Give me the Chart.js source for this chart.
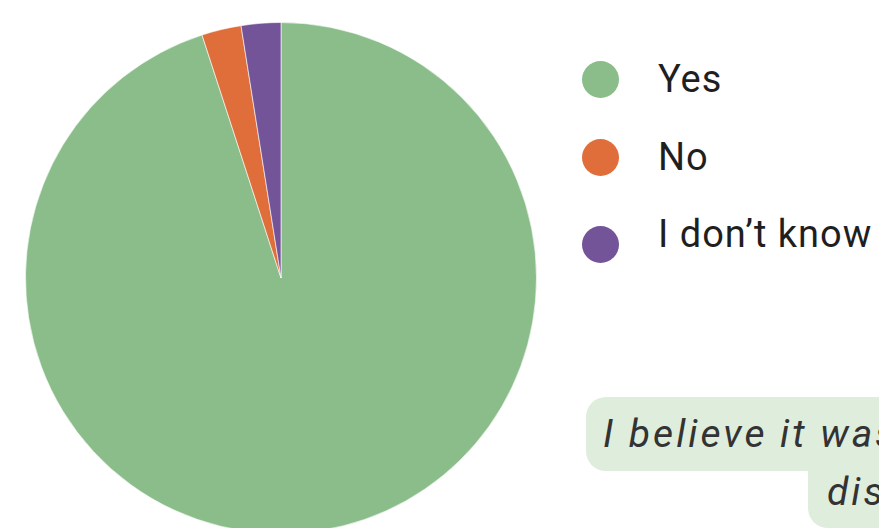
<!DOCTYPE html>
<html>
<head>
<meta charset="utf-8">
<script src="https://cdn.jsdelivr.net/npm/chart.js@4"></script>
<style>
  html, body { margin: 0; padding: 0; background: #fff; overflow: hidden; width: 879px; height: 528px; }
  #wrap { position: relative; width: 879px; height: 528px; overflow: hidden; }
  #pieChart { position: absolute; left: 0; top: 0; }
  #legend { position: absolute; left: 582px; top: 0; font-family: Roboto, sans-serif; font-size: 38px; letter-spacing: 1px; color: #1f1f1f; }
  .item { position: absolute; left: 0; height: 40px; white-space: nowrap; }
  .dot { position: absolute; left: 0; width: 37px; height: 37px; border-radius: 50%; }
  .lbl { position: absolute; left: 76px; line-height: 40px; }
  .quote { position: absolute; background: #dfeddc; font-family: Roboto, sans-serif; font-style: italic; font-size: 39px; letter-spacing: 3px; color: #333; white-space: nowrap; border-radius: 20px; }
</style>
</head>
<body>
<div id="wrap">
  <canvas id="pieChart" width="562" height="540"></canvas>
  <div id="legend"></div>
  <div class="quote" style="left:586px; top:397px; width:340px; height:74px; line-height:74px; padding-left:17px; box-sizing:border-box;">I believe it was</div>
  <div class="quote" style="left:808px; top:460px; width:120px; height:68px; line-height:64px; padding-left:19px; box-sizing:border-box; border-top-left-radius:0;">dis</div>
</div>
<script>
// PIE CHART

var labels = ["Yes", "No", "I don\u2019t know"];
var answers = [38, 1, 1];
var colors = ["rgb(138, 189, 138)", "rgb(223, 110, 58)", "rgb(116, 84, 153)"];

// legend rows: text middle y and dot middle y
var legendTextY = [79, 157, 234];
var legendDotY = [79, 157, 244];

var legend = document.getElementById("legend");
labels.forEach(function (name, i) {
  var item = document.createElement("div");
  item.className = "item";
  var dot = document.createElement("div");
  dot.className = "dot";
  dot.style.background = colors[i];
  dot.style.top = (legendDotY[i] - 18.5) + "px";
  var lbl = document.createElement("div");
  lbl.className = "lbl";
  lbl.textContent = name;
  lbl.style.top = (legendTextY[i] - 20) + "px";
  item.appendChild(dot);
  item.appendChild(lbl);
  legend.appendChild(item);
});

var pieChartConfig = {
  type: "pie",
  data: {
    labels: labels,
    datasets: [
      {
        data: answers,
        backgroundColor: colors,
        borderColor: "rgba(255, 255, 255, 0.6)",
        borderWidth: 1,
        hoverOffset: 0,
      },
    ],
  },
  options: {
    responsive: false,
    animation: false,
    devicePixelRatio: 1,
    layout: {
      padding: { top: 22, bottom: 6, left: 0, right: 0 },
    },
    plugins: {
      legend: { display: false },
      tooltip: { enabled: false },
    },
  },
};

var pieChart = new Chart(document.getElementById("pieChart"), pieChartConfig);
</script>
</body>
</html>
